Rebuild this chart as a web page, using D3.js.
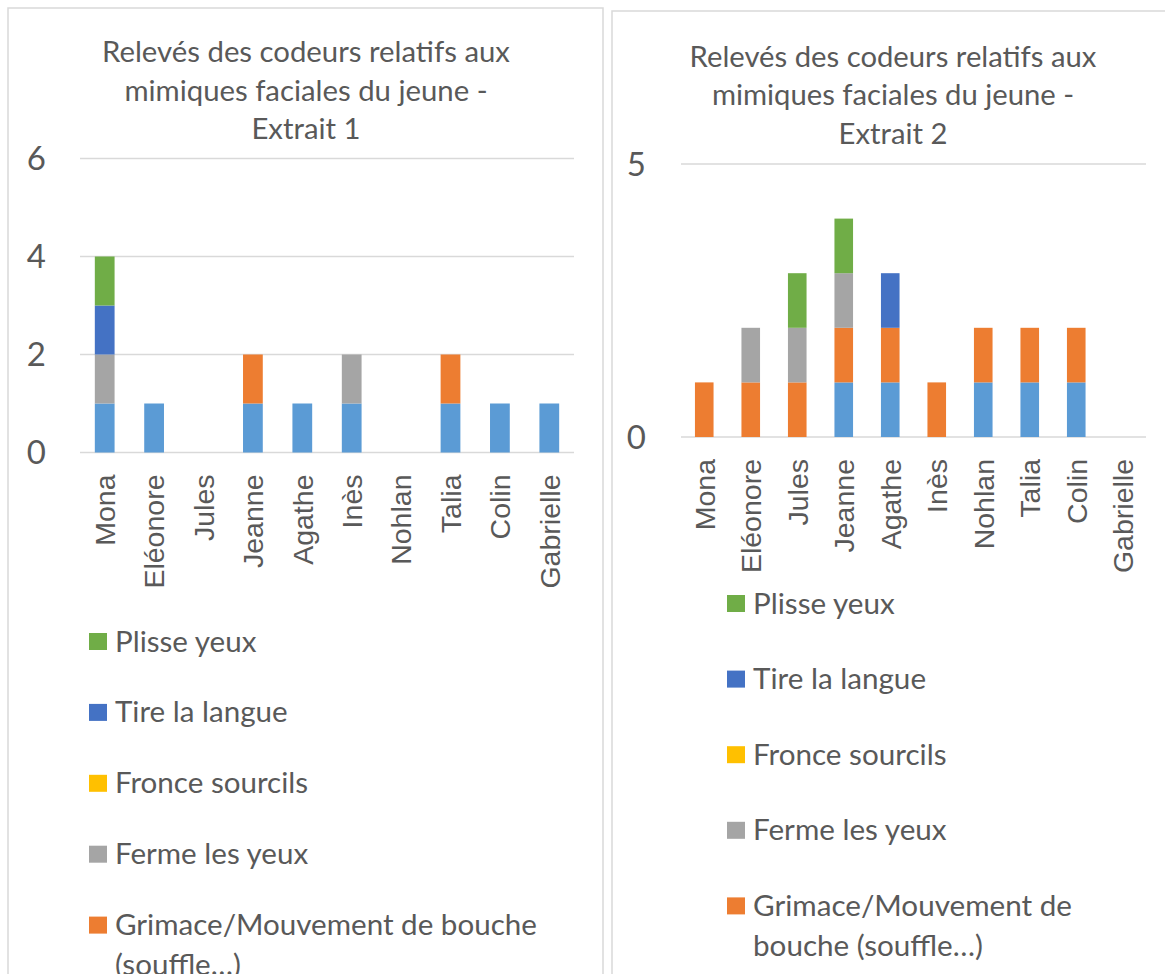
<!DOCTYPE html>
<html>
<head>
<meta charset="utf-8">
<script src="https://cdn.jsdelivr.net/npm/d3@7"></script>
<style>
  html, body { margin: 0; padding: 0; background: #fff; }
  svg { display: block; }
</style>
</head>
<body>
<svg id="chart" width="1165" height="974"></svg>
<script>
// ---------- DATA ----------
const categories = ["Mona", "Eléonore", "Jules", "Jeanne", "Agathe", "Inès", "Nohlan", "Talia", "Colin", "Gabrielle"];

// Series in stacking order (bottom -> top). The first series' legend entry is cut off in the reference.
const seriesKeys = ["s0", "grimace", "ferme", "fronce", "tire", "plisse"];
const seriesColors = ["#5B9BD5", "#ED7D31", "#A5A5A5", "#FFC000", "#4472C4", "#70AD47"];

// Legend entries as shown (top -> bottom)
const legendKeys = ["plisse", "tire", "fronce", "ferme", "grimace"];
const legendLabels1 = [["Plisse yeux"], ["Tire la langue"], ["Fronce sourcils"], ["Ferme les yeux"], ["Grimace/Mouvement de bouche", "(souffle…)"]];
const legendLabels2 = [["Plisse yeux"], ["Tire la langue"], ["Fronce sourcils"], ["Ferme les yeux"], ["Grimace/Mouvement de", "bouche (souffle…)"]];

const title1 = ["Relevés des codeurs relatifs aux", "mimiques faciales du jeune -", "Extrait 1"];
const title2 = ["Relevés des codeurs relatifs aux", "mimiques faciales du jeune -", "Extrait 2"];

// Extrait 1 values
const s0_1      = [1, 1, 0, 1, 1, 1, 0, 1, 1, 1];
const grimace_1 = [0, 0, 0, 1, 0, 0, 0, 1, 0, 0];
const ferme_1   = [1, 0, 0, 0, 0, 1, 0, 0, 0, 0];
const fronce_1  = [0, 0, 0, 0, 0, 0, 0, 0, 0, 0];
const tire_1    = [1, 0, 0, 0, 0, 0, 0, 0, 0, 0];
const plisse_1  = [1, 0, 0, 0, 0, 0, 0, 0, 0, 0];

// Extrait 2 values
const s0_2      = [0, 0, 0, 1, 1, 0, 1, 1, 1, 0];
const grimace_2 = [1, 1, 1, 1, 1, 1, 1, 1, 1, 0];
const ferme_2   = [0, 1, 1, 1, 0, 0, 0, 0, 0, 0];
const fronce_2  = [0, 0, 0, 0, 0, 0, 0, 0, 0, 0];
const tire_2    = [0, 0, 0, 0, 1, 0, 0, 0, 0, 0];
const plisse_2  = [0, 0, 1, 1, 0, 0, 0, 0, 0, 0];

const yTicks1 = [0, 2, 4, 6];
const yTicks2 = [0, 5];

// ---------- HELPERS ----------
const svg = d3.select("#chart");
const TEXT = "#595959";
const GRID = "#D9D9D9";
const titleFont = "Lato, 'Open Sans', sans-serif";
const labelFont = "'Liberation Sans', Arial, sans-serif";

function fitSize(text, family, targetWidth) {
  const t = svg.append("text").attr("font-family", family).attr("font-size", 100).text(text);
  const w = t.node().getComputedTextLength();
  t.remove();
  return 100 * targetWidth / w;
}

function buildTable(arrs) {
  return categories.map((c, i) => {
    const row = { cat: c };
    seriesKeys.forEach((k, j) => row[k] = arrs[j][i]);
    return row;
  });
}

function drawPanel(cfg) {
  const g = svg.append("g");
  // panel border
  g.append("rect")
    .attr("x", cfg.box[0]).attr("y", cfg.box[1])
    .attr("width", cfg.box[2]).attr("height", cfg.box[3])
    .attr("fill", "#fff").attr("stroke", GRID).attr("stroke-width", 1.5);

  // title
  const tSize = fitSize(cfg.title[0], titleFont, cfg.titleWidth);
  g.append("text")
    .attr("font-family", titleFont).attr("font-size", tSize).attr("fill", TEXT)
    .attr("text-anchor", "middle")
    .selectAll("tspan").data(cfg.title).join("tspan")
    .attr("x", cfg.titleX)
    .attr("y", (d, i) => cfg.titleY + i * cfg.titleLH)
    .text(d => d);

  const x = d3.scaleBand().domain(categories).range([cfg.x0, cfg.x1]).paddingInner(0.6).paddingOuter(0.3);
  const y = d3.scaleLinear().domain([0, cfg.yMax]).range([cfg.y0, cfg.yTop]);

  // gridlines
  g.append("g").selectAll("line").data(cfg.yTicks).join("line")
    .attr("x1", cfg.x0).attr("x2", cfg.x1)
    .attr("y1", d => y(d)).attr("y2", d => y(d))
    .attr("stroke", GRID).attr("stroke-width", 1.5);

  // y tick labels
  g.append("g").selectAll("text").data(cfg.yTicks).join("text")
    .attr("x", cfg.yLabelX).attr("y", d => y(d))
    .attr("dy", "0.36em")
    .attr("text-anchor", "end")
    .attr("font-family", titleFont).attr("font-size", 33).attr("fill", TEXT)
    .text(d => d);

  // stacked bars
  const table = buildTable(cfg.values);
  const stacked = d3.stack().keys(seriesKeys)(table);
  const colorOf = d3.scaleOrdinal().domain(seriesKeys).range(seriesColors);
  g.append("g").selectAll("g").data(stacked).join("g")
    .attr("fill", d => colorOf(d.key))
    .selectAll("rect").data(d => d.filter(p => p[1] > p[0])).join("rect")
    .attr("x", d => x(d.data.cat))
    .attr("width", x.bandwidth())
    .attr("y", d => y(d[1]))
    .attr("height", d => y(d[0]) - y(d[1]));

  // category labels (rotated)
  g.append("g").selectAll("text").data(categories).join("text")
    .attr("transform", d => `translate(${x(d) + x.bandwidth() / 2},${cfg.y0 + 22}) rotate(-90)`)
    .attr("text-anchor", "end")
    .attr("dy", "0.36em")
    .attr("font-family", labelFont).attr("font-size", 28.5).attr("fill", TEXT)
    .text(d => d);

  // legend
  const lSize = fitSize(cfg.legend[4][0], titleFont, cfg.legendRefWidth);
  const items = g.append("g").selectAll("g").data(legendKeys).join("g")
    .attr("transform", (d, i) => `translate(${cfg.legX},${cfg.legY + i * cfg.legStep})`);
  items.append("rect")
    .attr("x", 0).attr("y", -8.5).attr("width", 18).attr("height", 17)
    .attr("fill", d => colorOf(d));
  items.append("text")
    .attr("font-family", titleFont).attr("font-size", lSize).attr("fill", TEXT)
    .selectAll("tspan").data((d, i) => cfg.legend[i]).join("tspan")
    .attr("x", 26).attr("y", (d, j) => 10 + j * 40)
    .text(d => d);
}

drawPanel({
  box: [8, 8, 595, 1000],
  title: title1, titleX: 306, titleY: 62, titleLH: 38.5, titleWidth: 408,
  x0: 80, x1: 574, y0: 452.5, yTop: 158.5, yMax: 6, yTicks: yTicks1, yLabelX: 46,
  values: [s0_1, grimace_1, ferme_1, fronce_1, tire_1, plisse_1],
  legend: legendLabels1, legendRefWidth: 422,
  legX: 89, legY: 641.5, legStep: 70.9
});

drawPanel({
  box: [612, 11, 600, 1000],
  title: title2, titleX: 893, titleY: 66.5, titleLH: 38.5, titleWidth: 407,
  x0: 681, x1: 1146, y0: 437, yTop: 164, yMax: 5, yTicks: yTicks2, yLabelX: 646,
  values: [s0_2, grimace_2, ferme_2, fronce_2, tire_2, plisse_2],
  legend: legendLabels2, legendRefWidth: 319,
  legX: 727, legY: 603.5, legStep: 75.6
});
</script>
</body>
</html>
